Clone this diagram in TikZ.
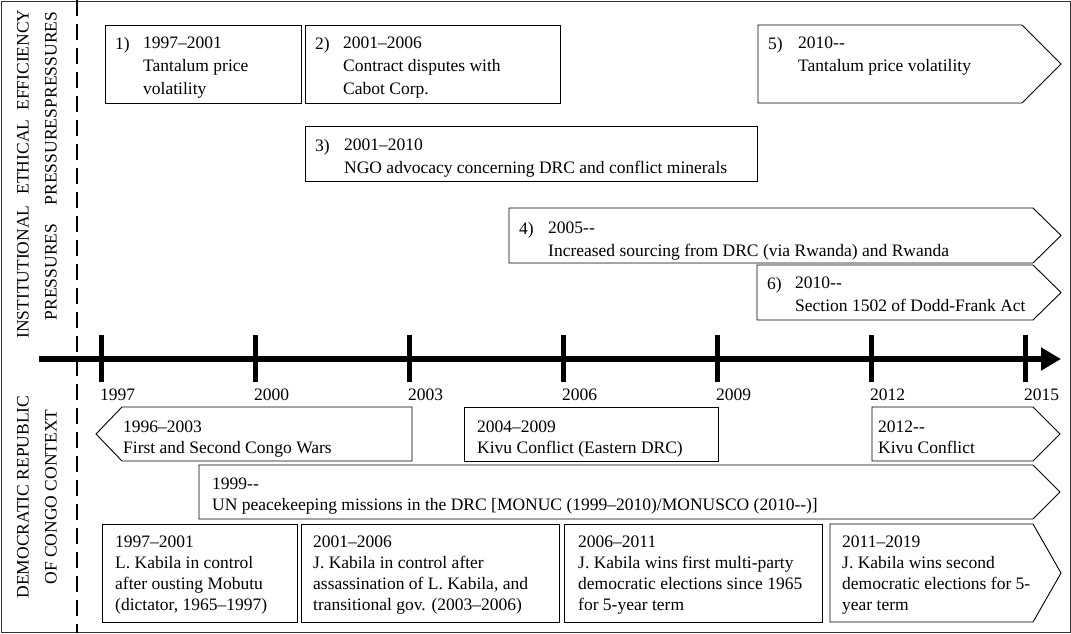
\documentclass[tikz,border=0pt]{standalone}
\usepackage{fontspec}
\setmainfont{Liberation Serif}[Ligatures=TeXOff]
\usetikzlibrary{arrows.meta}
\begin{document}
\begin{tikzpicture}[x=1pt,y=-1pt,
  evt/.style={draw=black, line width=0.9pt, fill=white},
  txt/.style={anchor=north west, inner sep=0pt, align=left, font=\fontsize{17.5}{23}\selectfont},
  txtb/.style={txt, font=\fontsize{17.5}{21}\selectfont},
  num/.style={anchor=base west, inner sep=0pt, font=\fontsize{17.5}{23}\selectfont},
  side/.style={rotate=90, align=center, inner sep=0pt, font=\fontsize{17.5}{28}\selectfont},
  yearlbl/.style={anchor=base west, inner sep=0pt, font=\fontsize{17.5}{21}\selectfont},
  tick/.style={line width=5pt},
]
\useasboundingbox (0,0) rectangle (1071,633);
\draw[line width=1pt, draw=black!80] (1,1) rectangle (1070,632);

% row headings
\node[side] (hEff) at (37,60) {EFFICIENCY\\PRESSURES};
\node[side] (hEth) at (37,157) {ETHICAL\\PRESSURES};
\node[side] (hIns) at (37,272) {INSTITUTIONAL\\PRESSURES};
\node[side] (hDrc) at (37,497) {DEMOCRATIC REPUBLIC\\OF CONGO CONTEXT};

% time axis
\coordinate (ax0) at (39,359);
\coordinate (ax1) at (1061,359);
\draw[line width=6pt, -{Triangle[length=20pt,width=22pt]}] (ax0) -- (ax1);
\foreach \i in {0,...,6}{
  \pgfmathtruncatemacro{\yr}{1997+3*\i}
  \coordinate (tk\i) at ({101+154*\i},359);
  \draw[tick] ([yshift=24pt]tk\i) -- ([yshift=-23pt]tk\i);
  \node[yearlbl] (yr\i) at ([xshift=-1pt,yshift=-41pt]tk\i) {\yr};
}

% dashed separator
\draw[line width=2.5pt, dash pattern=on 16pt off 8pt] (77,0) -- (77,633);

% pressures (text tops sit 12pt above the first baseline)
\draw[evt] (105,25) rectangle (301,103);
\node[num] (n1) at (115,49) {1)};
\node[txt] (t1) at (143,37) {1997–2001\\Tantalum price\\volatility};

\draw[evt] (305,25) rectangle (560,103);
\node[num] (n2) at (315,49) {2)};
\node[txt] (t2) at (343,37) {2001–2006\\Contract disputes with\\Cabot Corp.};

\draw[evt] (758,25) -- (1022,25) -- (1061,64) -- (1022,103) -- (758,103) -- cycle;
\node[num] (n5) at (768,49) {5)};
\node[txt] (t5) at (798,37) {2010--\\Tantalum price volatility};

\draw[evt] (305,126) rectangle (757,181);
\node[num] (n3) at (315,151) {3)};
\node[txt] (t3) at (344,139) {2001–2010\\NGO advocacy concerning DRC and conflict minerals};

\draw[evt] (509,208) -- (1033,208) -- (1061,235.5) -- (1033,263) -- (509,263) -- cycle;
\node[num] (n4) at (519,234) {4)};
\node[txt] (t4) at (548,222) {2005--\\Increased sourcing from DRC (via Rwanda) and Rwanda};

\draw[evt] (757,265) -- (1033,265) -- (1061,292.5) -- (1033,320) -- (757,320) -- cycle;
\node[num] (n6) at (767,289) {6)};
\node[txt] (t6) at (795,277) {2010--\\Section 1502 of Dodd-Frank Act};

% DRC context
\draw[evt] (96,434) -- (122,407) -- (412,407) -- (412,461) -- (122,461) -- cycle;
\node[txtb] (w1) at (123,421) {1996–2003\\First and Second Congo Wars};

\draw[evt] (464,407) rectangle (718,461);
\node[txtb] (w2) at (477,421) {2004–2009\\Kivu Conflict (Eastern DRC)};

\draw[evt] (872,407) -- (1033,407) -- (1060,434) -- (1033,461) -- (872,461) -- cycle;
\node[txtb] (w3) at (878,421) {2012--\\Kivu Conflict};

\draw[evt] (199,465) -- (1033,465) -- (1060,492) -- (1033,519) -- (199,519) -- cycle;
\node[txtb] (un) at (212,478) {1999--\\UN peacekeeping missions in the DRC [MONUC (1999–2010)/MONUSCO (2010--)]};

\draw[evt] (102,524) rectangle (297,622);
\node[txtb] (k1) at (115,536) {1997–2001\\L. Kabila in control\\after ousting Mobutu\\(dictator, 1965–1997)};

\draw[evt] (301,524) rectangle (559,622);
\node[txtb] (k2) at (313,536) {2001–2006\\J. Kabila in control after\\assassination of L. Kabila, and\\transitional gov. (2003–2006)};

\draw[evt] (564,524) rectangle (822,622);
\node[txtb] (k3) at (578,536) {2006–2011\\J. Kabila wins first multi-party\\democratic elections since 1965\\for 5-year term};

\draw[evt] (830,524) -- (1033,524) -- (1061,573) -- (1033,622) -- (830,622) -- cycle;
\node[txtb] (k4) at (842,536) {2011–2019\\J. Kabila wins second\\democratic elections for 5-\\year term};
\end{tikzpicture}
\end{document}
